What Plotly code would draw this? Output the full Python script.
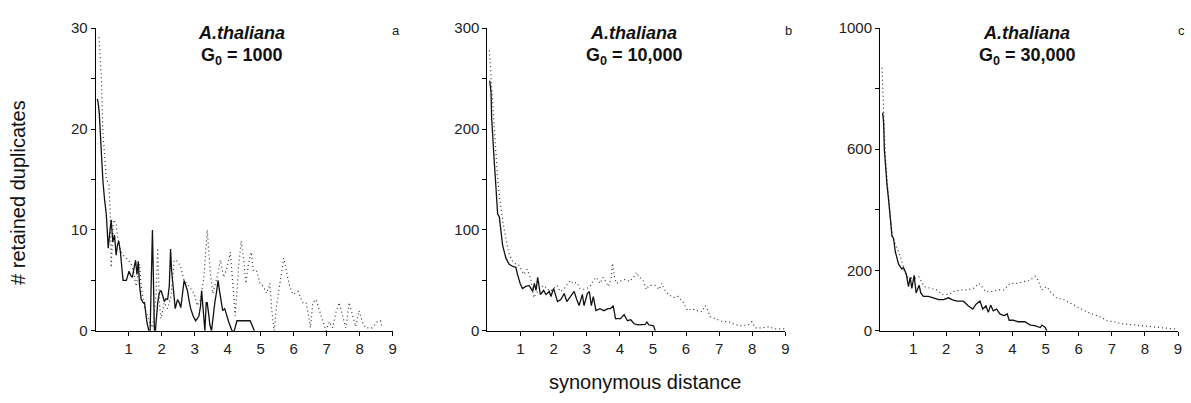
import plotly.graph_objects as go

# ---------------- data ----------------
panel_names = ["a", "b", "c"]
species = "A.thaliana"
g0_labels = ["1000", "10,000", "30,000"]
x_tick_labels = ["1", "2", "3", "4", "5", "6", "7", "8", "9"]

# panel a  (G0 = 1000)
a_solid_x = [0.05, 0.08, 0.11, 0.14, 0.18, 0.22, 0.27, 0.32, 0.35, 0.38, 0.42, 0.47, 0.52, 0.57, 0.62, 0.66,
             0.70, 0.75, 0.80, 0.83, 0.93, 1.01, 1.06, 1.11, 1.16, 1.21, 1.25, 1.29, 1.33, 1.38, 1.44, 1.48,
             1.55, 1.61, 1.65, 1.68, 1.72, 1.75, 1.78, 1.81, 1.88, 1.93, 1.98, 2.03, 2.08, 2.13, 2.18, 2.23,
             2.27, 2.30, 2.35, 2.41, 2.48, 2.53, 2.58, 2.63, 2.68, 2.73, 2.78, 2.83, 2.88, 2.95, 3.03, 3.08,
             3.13, 3.18, 3.21, 3.26, 3.31, 3.35, 3.38, 3.43, 3.46, 3.51, 3.55, 3.61, 3.66, 3.71, 3.75, 3.78,
             3.85, 3.91, 3.97, 4.03, 4.13, 4.20, 4.28, 4.68, 4.81]
a_solid_y = [23, 22.5, 21.5, 19.5, 17, 14.8, 13, 11.6, 10, 8.2, 9.5, 11, 8.8, 9.5, 7.5, 8.5,
             8.9, 7.8, 6, 5, 5, 5.9, 5.5, 5.3, 6.2, 7, 5.6, 6.9, 4.5, 3.1, 2.8, 2.8,
             0.9, 0, 0, 5, 10, 5, 0, 0, 2.8, 3.8, 4, 3.5, 2.9, 3.2, 3.1, 4.4,
             8.1, 6, 4.4, 2.2, 3.1, 2.8, 2.3, 3.5, 5, 4.5, 4, 3, 2.2, 1.5, 1, 1.2,
             1.5, 2.5, 4, 2, 0, 2.8, 2.8, 1.5, 0.6, 0, 1.2, 2.8, 3.8, 5, 4, 3.4,
             2, 2.2, 1.5, 0.9, 0, 0, 1, 1, 0]
a_dot_x = [0.10, 0.17, 0.22, 0.27, 0.32, 0.40, 0.44, 0.47, 0.50, 0.54, 0.62, 0.67, 0.75, 0.83, 0.93, 1.08,
           1.15, 1.23, 1.33, 1.38, 1.48, 1.63, 1.73, 1.83, 1.88, 1.93, 1.98, 2.08, 2.18, 2.28, 2.38, 2.48,
           2.58, 2.68, 2.83, 2.98, 3.08, 3.18, 3.28, 3.38, 3.48, 3.55, 3.68, 3.78, 3.88, 3.98, 4.08, 4.18,
           4.23, 4.33, 4.41, 4.48, 4.55, 4.63, 4.71, 4.78, 4.88, 4.98, 5.08, 5.18, 5.28, 5.33, 5.41, 5.48,
           5.55, 5.63, 5.70, 5.78, 5.88, 5.98, 6.13, 6.28, 6.38, 6.48, 6.51, 6.58, 6.68, 6.83, 6.98, 7.08,
           7.18, 7.28, 7.38, 7.48, 7.58, 7.68, 7.78, 7.88, 7.98, 8.08, 8.18, 8.38, 8.53, 8.63, 8.68]
a_dot_y = [29.1, 25.3, 19.6, 17, 15.1, 14.5, 12, 6.3, 9, 11, 10.7, 9.1, 8, 7.5, 7.2, 6.6,
           5.8, 4.4, 6.6, 4.4, 2.3, 0.9, 0.3, 3.7, 8.2, 2.8, 1.2, 2.8, 2.2, 3.4, 7, 6.9,
           6.3, 5, 4.4, 3.7, 2.5, 3.1, 5.3, 10, 5.6, 3.7, 5.3, 7, 5.3, 6.3, 7.8, 3.4,
           1.5, 6.3, 8.9, 7.2, 4.7, 6.6, 7.8, 5.9, 5.9, 4.7, 4.4, 3.7, 4.7, 2.2, 0, 2.5,
           4, 5.3, 7.2, 5.9, 4.4, 3.6, 3.9, 2.8, 2.8, 0.9, 0.3, 2.8, 3.1, 1.5, 0, 0.9,
           0.3, 1.8, 2.8, 1.5, 0.3, 2.8, 1.5, 0.4, 2, 0.9, 0.3, 0.3, 0.9, 1, 0.3]

# panel b  (G0 = 10,000)
b_solid_x = [0.07, 0.11, 0.13, 0.16, 0.21, 0.26, 0.31, 0.36, 0.41, 0.46, 0.56, 0.66, 0.76, 0.86, 0.91, 0.99,
             1.06, 1.16, 1.26, 1.37, 1.42, 1.47, 1.52, 1.60, 1.70, 1.77, 1.87, 1.92, 2.00, 2.07, 2.12, 2.22,
             2.32, 2.40, 2.52, 2.62, 2.70, 2.77, 2.87, 2.92, 3.02, 3.08, 3.14, 3.20, 3.28, 3.40, 3.52, 3.64,
             3.72, 3.80, 3.87, 4.02, 4.13, 4.23, 4.33, 4.43, 4.55, 4.68, 4.77, 4.82, 4.87, 5.02, 5.07]
b_solid_y = [248, 237, 211, 189, 167, 142, 116, 113, 97, 85, 72, 66, 64, 63, 56, 47,
             42, 44, 45, 39, 47, 40, 53, 36, 40, 36, 39, 34, 42, 33, 29, 31,
             37, 29, 34, 39, 31, 25, 36, 25, 37, 39, 25, 34, 20, 22, 20, 22,
             22, 25, 12, 12, 16, 10, 11, 7, 6, 6, 6.3, 9, 6, 5, 0]
b_dot_x = [0.06, 0.11, 0.16, 0.21, 0.26, 0.31, 0.36, 0.46, 0.56, 0.66, 0.76, 0.86, 0.95, 1.10, 1.20, 1.30,
           1.40, 1.55, 1.70, 1.90, 2.10, 2.20, 2.30, 2.40, 2.50, 2.60, 2.70, 2.80, 2.90, 3.00, 3.10, 3.20,
           3.30, 3.40, 3.50, 3.66, 3.74, 3.78, 3.84, 3.90, 4.00, 4.16, 4.30, 4.46, 4.50, 4.60, 4.70, 4.80,
           4.88, 5.07, 5.19, 5.27, 5.35, 5.47, 5.62, 5.77, 5.92, 6.05, 6.17, 6.32, 6.48, 6.58, 6.66, 6.73,
           6.88, 7.08, 7.29, 7.49, 7.69, 7.89, 7.99, 8.09, 8.29, 8.49, 8.69, 8.99]
b_dot_y = [278, 253, 227, 199, 173, 150, 135, 110, 91, 76, 69, 66, 65, 56, 61, 53,
           33, 41, 45, 39, 45, 39, 41, 45, 50, 47, 48, 42, 41, 42, 44, 50,
           53, 47, 53, 44, 53, 67, 53, 47, 49, 51, 49, 55, 58, 53, 50, 41,
           45, 45, 41, 47, 41, 36, 33, 34, 28, 20, 22, 20, 19, 25, 20, 14,
           12, 9.5, 9, 6, 5, 6, 9, 3, 3, 4, 2, 2]

# panel c  (G0 = 30,000)
c_solid_x = [0.08, 0.11, 0.13, 0.16, 0.21, 0.26, 0.31, 0.36, 0.41, 0.46, 0.51, 0.56, 0.66, 0.71, 0.79, 0.86,
             0.91, 0.96, 1.03, 1.09, 1.18, 1.23, 1.31, 1.46, 1.61, 1.77, 1.92, 2.07, 2.17, 2.32, 2.52, 2.67,
             2.80, 2.90, 3.02, 3.10, 3.20, 3.27, 3.34, 3.42, 3.52, 3.62, 3.72, 3.77, 3.84, 3.90, 4.02, 4.17,
             4.37, 4.54, 4.67, 4.74, 4.84, 4.89, 4.99, 5.04]
c_solid_y = [721, 684, 600, 547, 483, 431, 378, 315, 304, 262, 241, 220, 204, 209, 188, 146,
             177, 140, 183, 125, 151, 125, 114, 114, 109, 103, 103, 109, 103, 98, 98, 82,
             72, 88, 98, 72, 82, 61, 85, 66, 72, 56, 51, 51, 56, 35, 35, 30,
             30, 19, 17, 14, 11, 19, 11, 0]
c_dot_x = [0.06, 0.09, 0.11, 0.13, 0.16, 0.21, 0.26, 0.31, 0.36, 0.45, 0.55, 0.63, 0.73, 0.83, 1.03, 1.18,
           1.33, 1.53, 1.73, 1.88, 2.08, 2.23, 2.43, 2.63, 2.83, 2.98, 3.08, 3.18, 3.38, 3.58, 3.73, 3.93,
           4.13, 4.33, 4.53, 4.68, 4.78, 4.88, 5.03, 5.18, 5.33, 5.53, 5.73, 5.93, 6.13, 6.28, 6.48, 6.68,
           6.88, 7.08, 7.28, 7.53, 7.78, 8.03, 8.28, 8.53, 8.73, 8.98]
c_dot_y = [869, 789, 726, 652, 578, 504, 431, 367, 315, 290, 262, 241, 199, 178, 172, 178,
           146, 141, 135, 120, 120, 130, 135, 135, 141, 157, 146, 130, 130, 135, 135, 157,
           157, 162, 167, 180, 167, 135, 146, 125, 109, 104, 93, 83, 72, 61, 53, 45,
           32, 30, 24, 21, 17, 14, 11, 8, 6, 5]

y_ranges = [30, 300, 1000]
y_tickvals = [[0, 5, 10, 15, 20, 25, 30],
              [0, 50, 100, 150, 200, 250, 300],
              [0, 200, 400, 600, 800, 1000]]
y_ticktext = [["0", "", "10", "", "20", "", "30"],
              ["0", "", "100", "", "200", "", "300"],
              ["0", "200", "", "600", "", "1000"]]

# ---------------- figure ----------------
W, H = 1191, 403
FONT = "Liberation Sans, Arial, sans-serif"

# pixel positions of the three plot areas
x_px = [(96, 394), (489, 788), (883, 1182)]
y_top_px, y_bot_px = 20, 336

series = [(a_solid_x, a_solid_y, a_dot_x, a_dot_y),
          (b_solid_x, b_solid_y, b_dot_x, b_dot_y),
          (c_solid_x, c_solid_y, c_dot_x, c_dot_y)]

fig = go.Figure()
layout = dict(width=W, height=H, margin=dict(l=0, r=0, t=0, b=0), autosize=False,
              paper_bgcolor="white", plot_bgcolor="white", showlegend=False,
              font=dict(family=FONT, color="#222"))
annotations = []

for i, (sx, sy, dx, dy) in enumerate(series):
    n = "" if i == 0 else str(i + 1)
    fig.add_trace(go.Scatter(x=dx, y=dy, mode="lines", xaxis="x" + n, yaxis="y" + n,
                             line=dict(color="#333", width=1.2, dash="1px,3px"), hoverinfo="skip"))
    fig.add_trace(go.Scatter(x=sx, y=sy, mode="lines", xaxis="x" + n, yaxis="y" + n,
                             line=dict(color="#111", width=1.3), hoverinfo="skip"))
    x0, x1 = x_px[i]
    layout["xaxis" + n] = dict(domain=[x0 / W, x1 / W], anchor="y" + n, range=[0, 9],
                               tickvals=list(range(1, 10)), ticktext=x_tick_labels,
                               showline=True, linecolor="black", linewidth=1,
                               ticks="outside", ticklen=4, tickcolor="black",
                               showgrid=False, zeroline=False,
                               tickfont=dict(family=FONT, size=15, color="#222"))
    layout["yaxis" + n] = dict(domain=[(H - y_bot_px) / H, (H - y_top_px) / H], anchor="x" + n,
                               range=[0, y_ranges[i]], tickvals=y_tickvals[i], ticktext=y_ticktext[i],
                               showline=True, linecolor="black", linewidth=1,
                               ticks="outside", ticklen=4, tickcolor="black",
                               showgrid=False, zeroline=False,
                               tickfont=dict(family=FONT, size=15, color="#222"))
    cx = (x0 + x1) / 2 - 3
    annotations.append(dict(text="<b><i>" + species + "</i></b>", xref="paper", yref="paper",
                            x=cx / W, y=1 - 25 / H, xanchor="center", yanchor="middle",
                            showarrow=False, font=dict(family=FONT, size=18, color="#111")))
    annotations.append(dict(text="<b>G<sub>0</sub> = " + g0_labels[i] + "</b>", xref="paper", yref="paper",
                            x=(cx + 1) / W, y=1 - 50 / H, xanchor="center", yanchor="middle",
                            showarrow=False, font=dict(family=FONT, size=18, color="#111")))
    annotations.append(dict(text=panel_names[i], xref="paper", yref="paper",
                            x=(x1 + 3) / W, y=1 - 22 / H, xanchor="center", yanchor="middle",
                            showarrow=False, font=dict(family=FONT, size=13, color="#222")))

annotations.append(dict(text="# retained duplicates", xref="paper", yref="paper",
                        x=18 / W, y=1 - 191 / H, xanchor="center", yanchor="middle", textangle=-90,
                        showarrow=False, font=dict(family=FONT, size=20, color="#111")))
annotations.append(dict(text="synonymous distance", xref="paper", yref="paper",
                        x=647 / W, y=1 - 389 / H, xanchor="center", yanchor="middle",
                        showarrow=False, font=dict(family=FONT, size=20, color="#111")))
layout["annotations"] = annotations
fig.update_layout(**layout)
fig.write_html("out.html", config={"responsive": False, "displayModeBar": False},
               post_script="document.documentElement.style.margin='0';document.body.style.margin='0';"
                           "document.body.style.overflow='hidden';document.documentElement.style.overflow='hidden';")
